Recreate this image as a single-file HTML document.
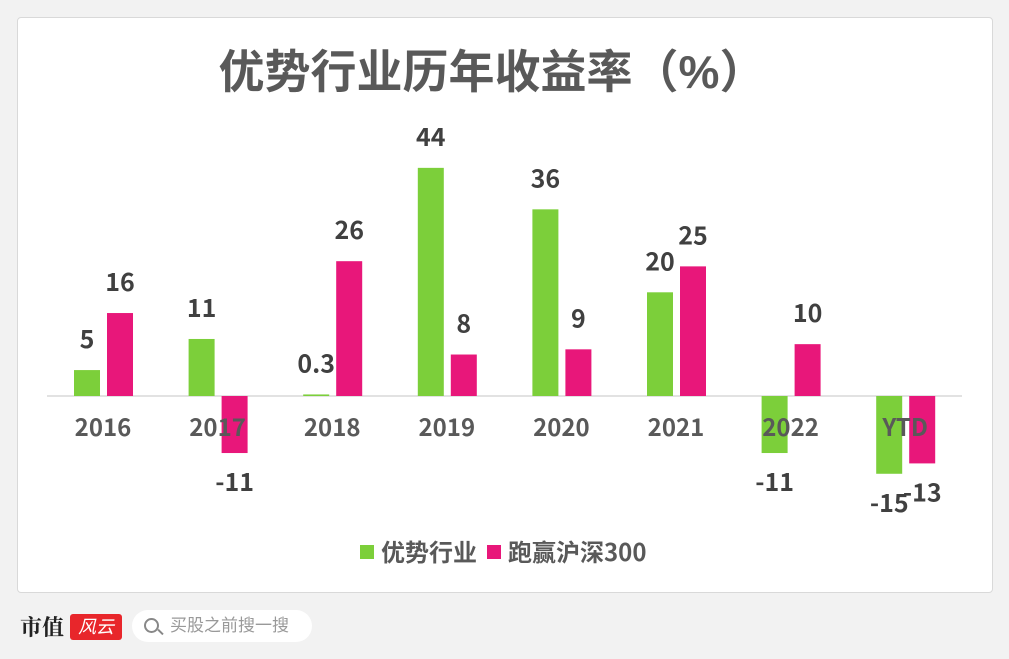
<!DOCTYPE html>
<html><head><meta charset="utf-8"><style>
body{margin:0;width:1009px;height:659px;background:#f2f2f2;font-family:"Liberation Sans","Noto Sans CJK SC",sans-serif;position:relative;overflow:hidden}
#card{position:absolute;left:17px;top:17px;width:974px;height:574px;background:#fff;border:1px solid #d9d9d9;border-radius:4px}
</style></head><body>
<div id="card"></div>
<svg id="chart" width="1009" height="659" style="position:absolute;left:0;top:0">
<text x="492" y="88" text-anchor="middle" font-size="46" font-weight="bold" fill="#595959" font-family="Liberation Sans,Noto Sans CJK SC,sans-serif">优势行业历年收益率（%）</text>
<line x1="47" y1="396" x2="962" y2="396" stroke="#d9d9d9" stroke-width="1.5"/>
<g id="bars"></g>
<rect x="360" y="545" width="14" height="14" fill="#7ccf3a"/>
<text x="381" y="561" font-size="24" font-weight="bold" fill="#595959" font-family="Noto Sans CJK SC,sans-serif">优势行业</text>
<rect x="487" y="545" width="14" height="14" fill="#e8177a"/>
<text x="508" y="561" font-size="24" font-weight="bold" fill="#595959" font-family="Noto Sans CJK SC,sans-serif">跑赢沪深300</text>
</svg>
<div style="position:absolute;left:20px;top:611px;font-size:22px;font-weight:bold;color:#222;font-family:'Noto Serif CJK SC',serif">市值</div>
<div style="position:absolute;left:70px;top:614px;width:52px;height:26px;background:#e8262b;border-radius:3px;color:#fff;font-size:18px;line-height:26px;text-align:center;font-style:italic">风云</div>
<div style="position:absolute;left:132px;top:610px;width:180px;height:32px;background:#fff;border-radius:16px;color:#999;font-size:17px;line-height:32px">
<span style="position:absolute;left:12px;top:8px;width:11px;height:11px;border:2px solid #888;border-radius:50%"></span>
<span style="position:absolute;left:25px;top:21px;width:7px;height:2px;background:#888;transform:rotate(45deg)"></span>
<span style="position:absolute;left:38px">买股之前搜一搜</span></div>
<script>
const categories=["2016","2017","2018","2019","2020","2021","2022","YTD"];
const seriesGreen=[5,11,0.3,44,36,20,-11,-15];
const seriesPink=[16,-11,26,8,9,25,10,-13];
const labelsGreen=["5","11","0.3","44","36","20","-11","-15"];
const labelsPink=["16","-11","26","8","9","25","10","-13"];
const y0=396,k=5.185;
const y=v=>y0-v*k;
const cx=i=>103+i*114.6;
const g=document.getElementById('bars');
const ns="http://www.w3.org/2000/svg";
function bar(x,v,col,lbl,name){
 const r=document.createElementNS(ns,'rect');
 r.setAttribute('x',x);r.setAttribute('width',26);
 r.setAttribute('y',Math.min(y(v),y0));r.setAttribute('height',Math.max(Math.abs(v*k),1));
 r.setAttribute('fill',col);
 
 
 g.appendChild(r);
 const t=document.createElementNS(ns,'text');
 t.setAttribute('x',x+13);t.setAttribute('y',v>=0?y(v)-22:y(v)+38);
 t.setAttribute('text-anchor','middle');t.setAttribute('font-size','25');t.setAttribute('font-weight','bold');t.setAttribute('fill','#404040');
 t.setAttribute('font-family','Noto Sans CJK SC,sans-serif');
 t.textContent=lbl;
 
 
 g.appendChild(t);
}
categories.forEach((c,i)=>{
 bar(cx(i)-29,seriesGreen[i],'#7ccf3a',labelsGreen[i],'bar-green-'+c);
 bar(cx(i)+4,seriesPink[i],'#e8177a',labelsPink[i],'bar-pink-'+c);
 const t=document.createElementNS(ns,'text');
 t.setAttribute('x',cx(i));t.setAttribute('y',436);t.setAttribute('text-anchor','middle');
 t.setAttribute('font-size','24');t.setAttribute('font-weight','bold');t.setAttribute('fill','#595959');
 t.setAttribute('font-family','Noto Sans CJK SC,sans-serif');
 t.textContent=c;
 
 
 g.appendChild(t);
});
</script>
</body></html>
